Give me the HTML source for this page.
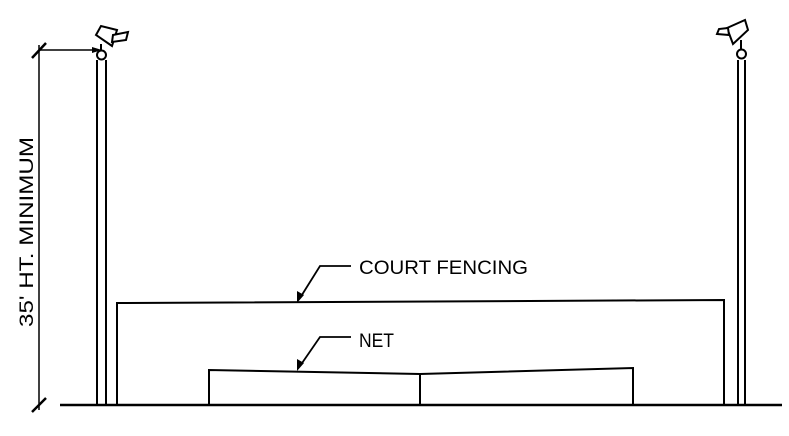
<!DOCTYPE html>
<html><head><style>html,body{margin:0;padding:0;background:#fff}</style></head>
<body>
<svg width="789" height="431" viewBox="0 0 789 431" xmlns="http://www.w3.org/2000/svg" font-family="Liberation Sans, sans-serif">
<g stroke="#000" stroke-width="2" fill="none">
<!-- ground -->
<line x1="60" y1="405" x2="782" y2="405" stroke-width="2.5"/>
<!-- dimension -->
<line x1="39" y1="45" x2="39" y2="410" stroke-width="1.5"/>
<line x1="32" y1="58" x2="46" y2="43" stroke-width="2.5"/>
<line x1="32" y1="412" x2="46" y2="398" stroke-width="2.5"/>
<line x1="39" y1="50" x2="92" y2="50" stroke-width="1.5"/>
<!-- left pole -->
<line x1="97" y1="60" x2="97" y2="405"/>
<line x1="106" y1="60" x2="106" y2="405"/>
<circle cx="101.5" cy="55" r="4.5" fill="#fff"/>
<polygon points="96,35 101,26 117,30 112,46" fill="#fff"/>
<polygon points="113,35 128,32 126,40 112,42" fill="#fff"/>
<line x1="101" y1="44" x2="101" y2="50"/>
<!-- right pole -->
<line x1="738" y1="60" x2="738" y2="405"/>
<line x1="745" y1="60" x2="745" y2="405"/>
<circle cx="741.5" cy="54" r="4.5" fill="#fff"/>
<polygon points="727,28 745,20 748,30 733,44" fill="#fff"/>
<polygon points="728,28 719,29 717,34 729,35" fill="#fff"/>
<line x1="741" y1="40" x2="741" y2="49"/>
<!-- fence -->
<polyline points="117,405 117,303 724,300 724,405"/>
<!-- net -->
<polyline points="209,405 209,370 420,374 633,368 633,405"/>
<line x1="420" y1="374" x2="420" y2="405"/>
<!-- leaders -->
<polyline points="351,266 320,266 300,298" stroke-width="1.8"/>
<polyline points="351,337 320,337 300,366" stroke-width="1.8"/>
</g>
<g fill="#000">
<polygon points="92,47 92,53 102,50"/>
<polygon points="297,303 297,291 304,295"/>
<polygon points="297,371 297,359 304,363"/>
</g>
<g font-size="19" fill="#000">
<text x="359" y="274" textLength="169" lengthAdjust="spacingAndGlyphs">COURT FENCING</text>
<text x="359" y="347" textLength="35" lengthAdjust="spacingAndGlyphs">NET</text>
<text transform="translate(33,327) rotate(-90)" x="0" y="0" textLength="190" lengthAdjust="spacingAndGlyphs">35' HT. MINIMUM</text>
</g>
</svg>
</body></html>
